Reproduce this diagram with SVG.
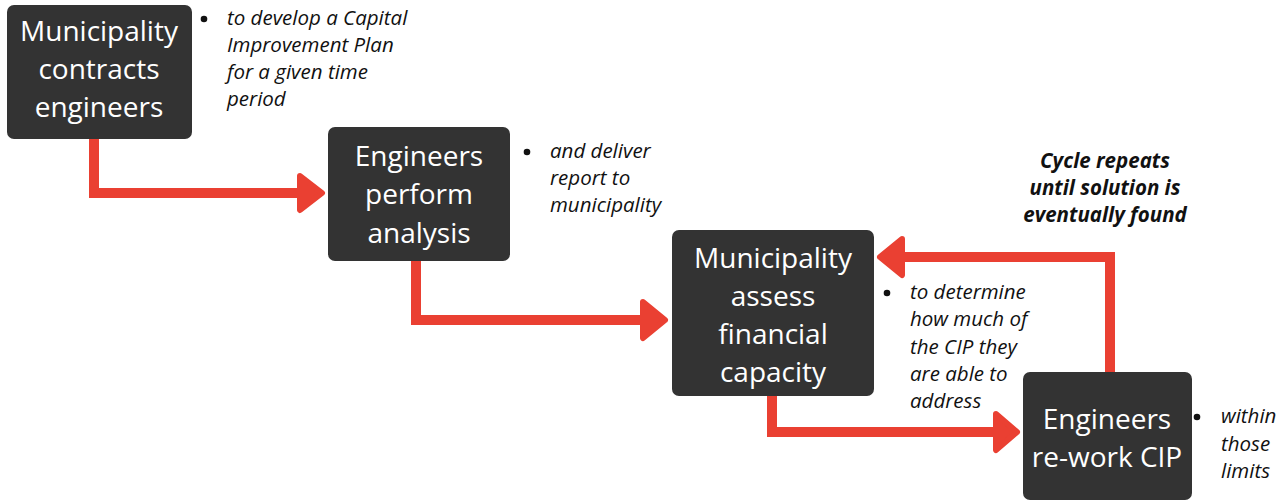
<svg xmlns="http://www.w3.org/2000/svg" width="1287" height="501" viewBox="0 0 1287 501">
  <style>
    .box { fill: #333333; }
    .label { font-family: "Open Sans", "Liberation Sans", sans-serif; font-size: 28px; fill: #ffffff; text-anchor: middle; }
    .note { font-family: "Open Sans", "Liberation Sans", sans-serif; font-size: 20.5px; font-style: italic; fill: #111111; }
    .dot { fill: #111111; }
    .cycle { font-family: "Open Sans", "Liberation Sans", sans-serif; font-size: 20.5px; font-style: italic; font-weight: bold; fill: #111111; text-anchor: middle; }
    .line { fill: none; stroke: #ea4032; stroke-width: 10; stroke-linejoin: miter; }
    .head { fill: #ea4032; stroke: #ea4032; stroke-width: 6; stroke-linejoin: round; }
  </style>
  <rect width="1287" height="501" fill="#ffffff"/>

  <g id="connectors">
    <path class="line" d="M94 139 V193 H300"/>
    <polygon class="head" points="300,176 322,193 300,210"/>
    <path class="line" d="M416 261 V320 H643"/>
    <polygon class="head" points="643,302 665,320 643,338"/>
    <path class="line" d="M772 396 V432 H996"/>
    <polygon class="head" points="996,414 1017,432 996,450"/>
    <path class="line" d="M1110 372 V257 H902"/>
    <polygon class="head" points="902,239 880,257 902,275"/>
  </g>

  <g id="node-contracts">
    <rect class="box" x="7" y="5" width="185" height="134" rx="7"/>
    <text class="label" x="99" y="41">Municipality</text>
    <text class="label" x="99" y="79">contracts</text>
    <text class="label" x="99" y="117">engineers</text>
  </g>
  <g id="note-contracts">
    <circle class="dot" cx="204" cy="19" r="3.3"/>
    <text class="note" x="227" y="25">to develop a Capital</text>
    <text class="note" x="227" y="52">Improvement Plan</text>
    <text class="note" x="227" y="79">for a given time</text>
    <text class="note" x="227" y="106">period</text>
  </g>

  <g id="node-analysis">
    <rect class="box" x="328" y="127" width="182" height="134" rx="7"/>
    <text class="label" x="419" y="166">Engineers</text>
    <text class="label" x="419" y="204">perform</text>
    <text class="label" x="419" y="243">analysis</text>
  </g>
  <g id="note-analysis">
    <circle class="dot" cx="527" cy="152" r="3.3"/>
    <text class="note" x="550" y="158">and deliver</text>
    <text class="note" x="550" y="185">report to</text>
    <text class="note" x="550" y="212">municipality</text>
  </g>

  <g id="node-capacity">
    <rect class="box" x="672" y="230" width="202" height="166" rx="7"/>
    <text class="label" x="773" y="268">Municipality</text>
    <text class="label" x="773" y="306">assess</text>
    <text class="label" x="773" y="344">financial</text>
    <text class="label" x="773" y="382">capacity</text>
  </g>
  <g id="note-capacity">
    <circle class="dot" cx="887" cy="293" r="3.3"/>
    <text class="note" x="910" y="299">to determine</text>
    <text class="note" x="910" y="326">how much of</text>
    <text class="note" x="910" y="354">the CIP they</text>
    <text class="note" x="910" y="381">are able to</text>
    <text class="note" x="910" y="408">address</text>
  </g>

  <g id="node-rework">
    <rect class="box" x="1023" y="372" width="169" height="128" rx="7"/>
    <text class="label" x="1107" y="429">Engineers</text>
    <text class="label" x="1107" y="467">re-work CIP</text>
  </g>
  <g id="note-rework">
    <circle class="dot" cx="1197" cy="417" r="3.3"/>
    <text class="note" x="1221" y="423">within</text>
    <text class="note" x="1221" y="451">those</text>
    <text class="note" x="1221" y="478">limits</text>
  </g>

  <g id="cycle-label">
    <text class="cycle" x="1105" y="168">Cycle repeats</text>
    <text class="cycle" x="1105" y="195">until solution is</text>
    <text class="cycle" x="1105" y="222">eventually found</text>
  </g>
</svg>
